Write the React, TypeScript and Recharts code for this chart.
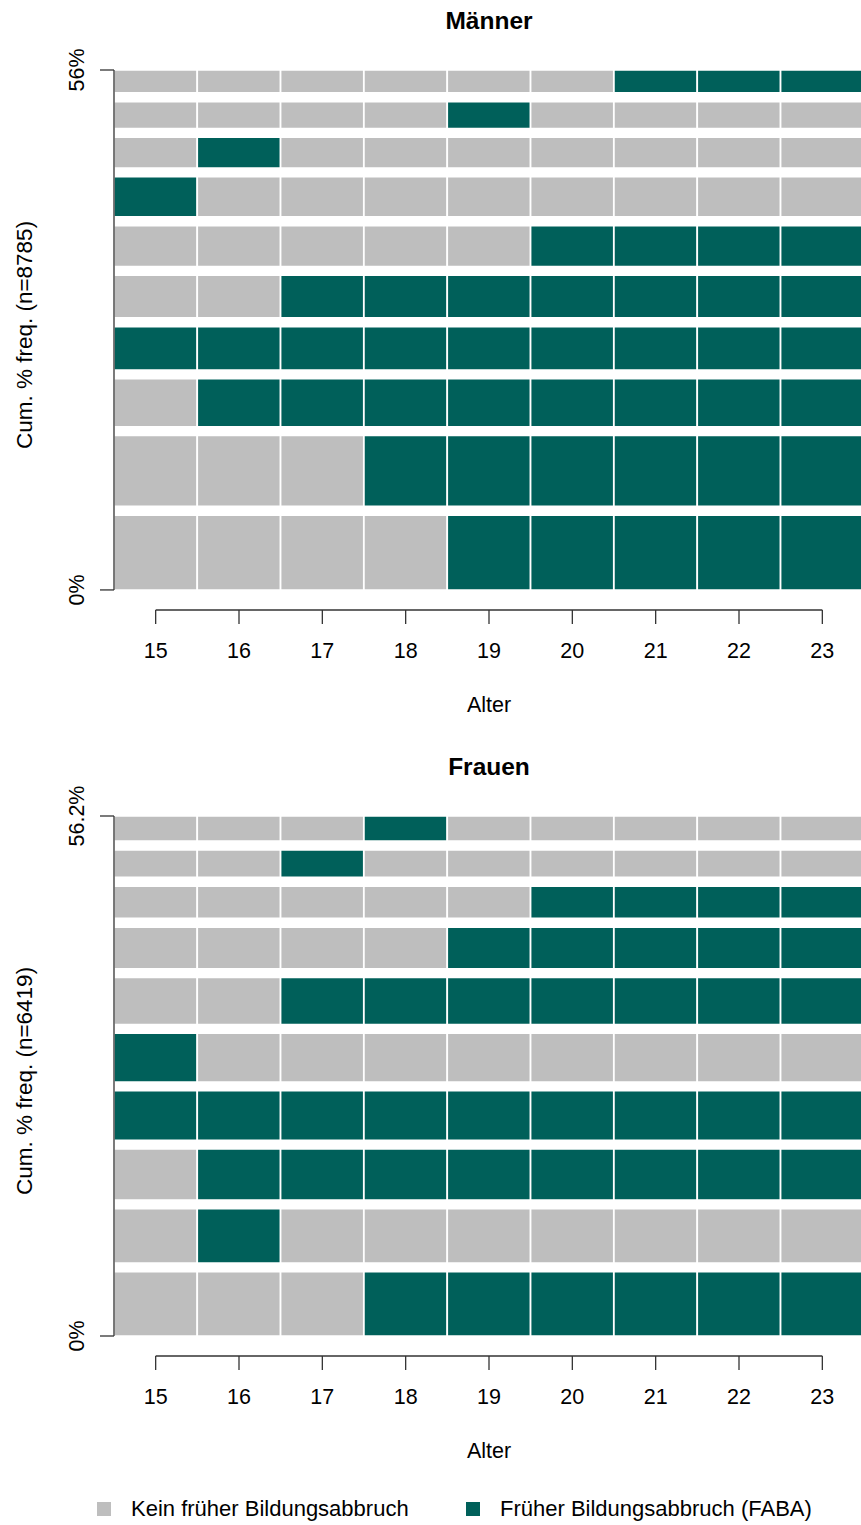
import React from "react";
import { BarChart, Bar, XAxis, YAxis, Cell, ReferenceLine, Label } from "recharts";

const ages = [15, 16, 17, 18, 19, 20, 21, 22, 23];
const stateCodes = ["K", "F"];
const stateLabels = ["Kein früher Bildungsabbruch", "Früher Bildungsabbruch (FABA)"];
const stateColors = ["#BEBEBE", "#00605A"];

// sequences from bottom to top, one letter per age (K = kein, F = FABA)
const menSeqs = [
  "KKKKFFFFF",
  "KKKFFFFFF",
  "KFFFFFFFF",
  "FFFFFFFFF",
  "KKFFFFFFF",
  "KKKKKFFFF",
  "FKKKKKKKK",
  "KFKKKKKKK",
  "KKKKFKKKK",
  "KKKKKKFFF",
];
const menFreq = [9.5, 9.0, 6.1, 5.5, 5.4, 5.2, 5.1, 3.9, 3.4, 2.9];
const menYTicks = ["0%", "56%"];
const menN = 8785;

const womenSeqs = [
  "KKKFFFFFF",
  "KFKKKKKKK",
  "KFFFFFFFF",
  "FFFFFFFFF",
  "FKKKKKKKK",
  "KKFFFFFFF",
  "KKKKFFFFF",
  "KKKKKFFFF",
  "KKFKKKKKK",
  "KKKFKKKKK",
];
const womenFreq = [8.2, 6.9, 6.5, 6.3, 6.2, 6.0, 5.3, 4.1, 3.5, 3.2];
const womenYTicks = ["0%", "56.2%"];
const womenN = 6419;

const SPACE = 0.2; // gap between sequences, share of mean bar height
const X_AXIS_DROP = 2.55; // x axis sits a bit below the lowest bar
const AXIS_COLOR = "#333";
const FONT = "'Liberation Sans', Arial, Helvetica, sans-serif";
const CHART_W = 870;
const CHART_H = 720;

const colorOf = (code: string) => stateColors[stateCodes.indexOf(code)];

function YTick(props: any) {
  const { x, y, payload, labels } = props;
  const text = payload.value === 0 ? labels[0] : labels[1];
  const tx = x - 14;
  return (
    <text x={tx} y={y} transform={`rotate(-90, ${tx}, ${y})`} textAnchor="middle" fontSize={21.5} fill="#000">
      {text}
    </text>
  );
}

function SeqPanel({ title, seqs, freq, yTicks, n, top }: any) {
  const sum = freq.reduce((a: number, b: number) => a + b, 0);
  const gap = (SPACE * sum) / freq.length;
  const total = sum + gap * (freq.length - 1);

  const rows = ages.map((age) => {
    const row: Record<string, number> = { age };
    freq.forEach((f: number, i: number) => {
      row["s" + i] = f;
      if (i < freq.length - 1) row["g" + i] = gap;
    });
    return row;
  });

  return (
    <div style={{ position: "absolute", left: 0, top, width: CHART_W, height: CHART_H }}>
      <div
        style={{
          position: "absolute",
          left: 114,
          width: 750,
          top: 7,
          textAlign: "center",
          fontSize: 24.5,
          fontWeight: "bold",
          lineHeight: "28px",
        }}
      >
        {title}
      </div>
      <BarChart
        width={CHART_W}
        height={CHART_H}
        data={rows}
        margin={{ top: 70, right: 6, bottom: 0, left: 0 }}
        barCategoryGap={0}
        barGap={0}
      >
        <XAxis
          xAxisId="cat"
          dataKey="age"
          type="category"
          height={110}
          axisLine={false}
          tickLine={{ stroke: AXIS_COLOR, strokeWidth: 1.3 }}
          tickSize={14}
          tickMargin={19}
          tick={{ fill: "#000", fontSize: 21.5 }}
          interval={0}
        >
          <Label
            content={(p: any) => (
              <text x={p.viewBox.x + p.viewBox.width / 2} y={p.viewBox.y + 102} textAnchor="middle" fontSize={21.5} fill="#000">
                Alter
              </text>
            )}
          />
        </XAxis>
        <XAxis xAxisId="num" dataKey="age" type="number" domain={[14.5, 23.5]} allowDataOverflow hide />
        <YAxis
          type="number"
          domain={[-X_AXIS_DROP, total]}
          allowDataOverflow
          ticks={[0, total]}
          interval={0}
          width={114}
          axisLine={false}
          tickLine={{ stroke: AXIS_COLOR, strokeWidth: 1.3 }}
          tickSize={14}
          tick={(p: any) => <YTick {...p} labels={yTicks} />}
        >
          <Label
            content={(p: any) => {
              const lx = p.viewBox.x + 32;
              const ly = p.viewBox.y + p.viewBox.height / 2 - 5;
              return (
                <text x={lx} y={ly} transform={`rotate(-90, ${lx}, ${ly})`} textAnchor="middle" fontSize={22.5} fill="#000">
                  {`Cum. % freq. (n=${n})`}
                </text>
              );
            }}
          />
        </YAxis>
        {freq.map((_: number, i: number) => [
          <Bar key={"s" + i} dataKey={"s" + i} stackId="a" xAxisId="cat" isAnimationActive={false}>
            {ages.map((age, j) => (
              <Cell key={age} fill={colorOf(seqs[i][j])} stroke="#ffffff" strokeWidth={1.5} />
            ))}
          </Bar>,
          i < freq.length - 1 ? (
            <Bar key={"g" + i} dataKey={"g" + i} stackId="a" xAxisId="cat" fill="none" stroke="none" isAnimationActive={false} />
          ) : null,
        ])}
        <ReferenceLine
          xAxisId="num"
          ifOverflow="visible"
          stroke={AXIS_COLOR}
          strokeWidth={1.3}
          segment={[
            { x: 14.5, y: 0 },
            { x: 14.5, y: total },
          ]}
        />
        <ReferenceLine
          xAxisId="num"
          ifOverflow="visible"
          stroke={AXIS_COLOR}
          strokeWidth={1.3}
          segment={[
            { x: ages[0], y: -X_AXIS_DROP },
            { x: ages[ages.length - 1], y: -X_AXIS_DROP },
          ]}
        />
      </BarChart>
    </div>
  );
}

export default function App() {
  const legendLeft = [97, 466];
  return (
    <div
      style={{
        position: "absolute",
        left: 0,
        top: 0,
        width: 861,
        height: 1525,
        overflow: "hidden",
        fontFamily: FONT,
        background: "#fff",
      }}
    >
      <SeqPanel title="Männer" seqs={menSeqs} freq={menFreq} yTicks={menYTicks} n={menN} top={0} />
      <SeqPanel title="Frauen" seqs={womenSeqs} freq={womenFreq} yTicks={womenYTicks} n={womenN} top={746} />
      {stateLabels.map((label, i) => (
        <div
          key={label}
          style={{ position: "absolute", left: legendLeft[i], top: 1494, display: "flex", alignItems: "center", height: 30 }}
        >
          <span style={{ width: 14, height: 14, background: stateColors[i], display: "inline-block", marginRight: 20 }} />
          <span style={{ fontSize: 22, color: "#000" }}>{label}</span>
        </div>
      ))}
    </div>
  );
}
